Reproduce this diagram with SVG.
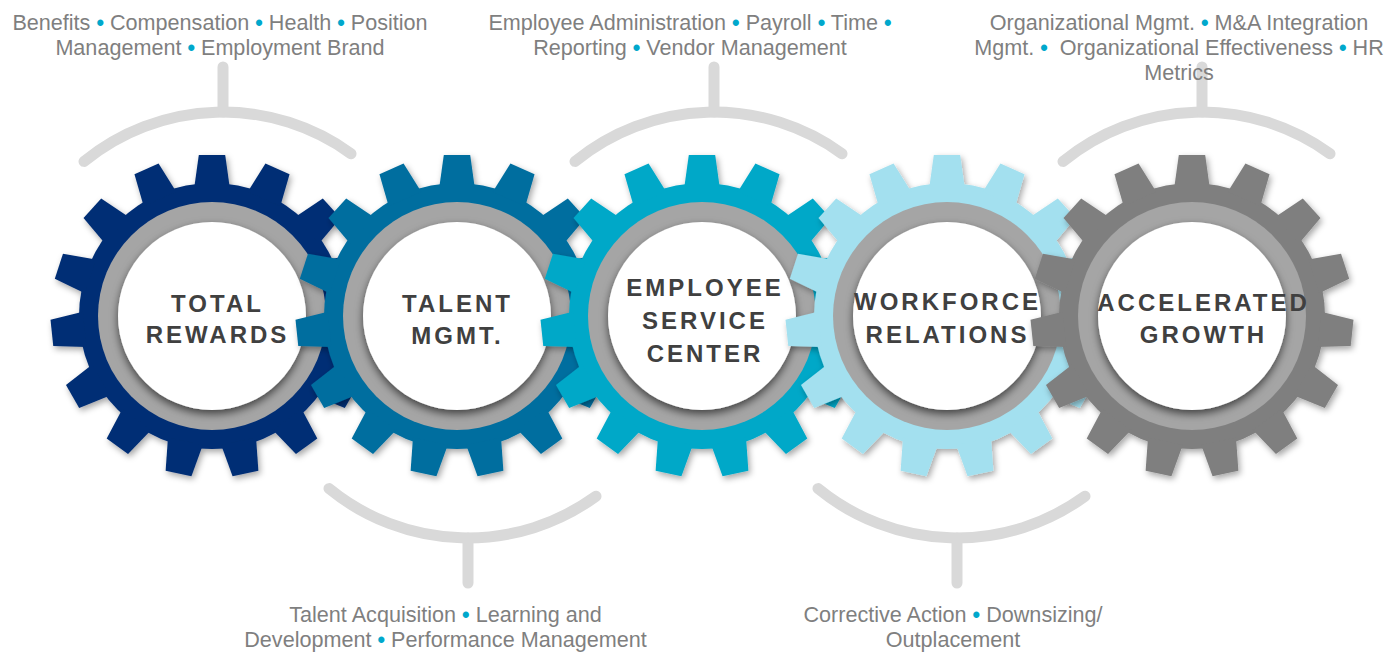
<svg xmlns="http://www.w3.org/2000/svg" xmlns:xlink="http://www.w3.org/1999/xlink" width="1387" height="652" viewBox="0 0 1387 652">
  <style>
    .bracket { fill: none; stroke: #d9d9d9; stroke-width: 11; stroke-linecap: round; }
    .ring { fill: #a5a5a5; }
    .face { fill: #ffffff; }
    .label { font-family: "Liberation Sans", Arial, sans-serif; font-weight: bold; font-size: 24px; letter-spacing: 3px; fill: #404040; text-anchor: middle; }
    .desc { font-family: "Liberation Sans", Arial, sans-serif; font-size: 21.6px; fill: #7f7f7f; text-anchor: middle; }
    .dot { fill: #00a8cc; font-weight: bold; }
  </style>
  <defs>
    <filter id="gearShadow" x="-15%" y="-15%" width="130%" height="130%">
      <feDropShadow dx="2" dy="3" stdDeviation="3" flood-color="#000" flood-opacity="0.35"/>
    </filter>
    <filter id="faceShadow" x="-20%" y="-20%" width="140%" height="140%">
      <feDropShadow dx="0" dy="4" stdDeviation="4" flood-color="#000" flood-opacity="0.6"/>
    </filter>
    <!-- one tooth pointing up; 15 copies are rotated around the hub -->
    <path id="tooth" d="M-17.8,-128 L-13.2,-161 L13.2,-161 L17.8,-128 Z"/>
    <g id="gear">
      <circle r="133"/>
      <use href="#tooth"/>
      <use href="#tooth" transform="rotate(24)"/>
      <use href="#tooth" transform="rotate(48)"/>
      <use href="#tooth" transform="rotate(72)"/>
      <use href="#tooth" transform="rotate(96)"/>
      <use href="#tooth" transform="rotate(120)"/>
      <use href="#tooth" transform="rotate(144)"/>
      <use href="#tooth" transform="rotate(168)"/>
      <use href="#tooth" transform="rotate(192)"/>
      <use href="#tooth" transform="rotate(216)"/>
      <use href="#tooth" transform="rotate(240)"/>
      <use href="#tooth" transform="rotate(264)"/>
      <use href="#tooth" transform="rotate(288)"/>
      <use href="#tooth" transform="rotate(312)"/>
      <use href="#tooth" transform="rotate(336)"/>
    </g>
  </defs>

  <rect width="1387" height="652" fill="#ffffff"/>

  <!-- brackets linking each gear to its list of services -->
  <g id="connectors">
    <path class="bracket" d="M84,161.4 A219,219 0 0 1 351,153.7"/>
    <line class="bracket" x1="223" y1="67" x2="223" y2="112"/>
    <path class="bracket" d="M575,161.4 A219,219 0 0 1 842,153.7"/>
    <line class="bracket" x1="714" y1="67" x2="714" y2="112"/>
    <path class="bracket" d="M1063,161.4 A219,219 0 0 1 1330,153.7"/>
    <line class="bracket" x1="1202" y1="67" x2="1202" y2="112"/>
    <path class="bracket" d="M329,488.6 A219,219 0 0 0 596,496.3"/>
    <line class="bracket" x1="468" y1="538" x2="468" y2="583"/>
    <path class="bracket" d="M818,488.6 A219,219 0 0 0 1085,496.3"/>
    <line class="bracket" x1="957" y1="538" x2="957" y2="583"/>
  </g>

  <!-- gears, each one overlapping the previous -->
  <g id="node-total-rewards" transform="translate(212,316)">
    <use href="#gear" fill="#002e74" filter="url(#gearShadow)"/>
    <circle class="ring" r="114"/>
    <circle class="face" r="94" filter="url(#faceShadow)"/>
  </g>
  <g id="node-talent-mgmt" transform="translate(457,316)">
    <use href="#gear" fill="#006e9f" filter="url(#gearShadow)"/>
    <circle class="ring" r="114"/>
    <circle class="face" r="94" filter="url(#faceShadow)"/>
  </g>
  <g id="node-employee-service-center" transform="translate(702,316)">
    <use href="#gear" fill="#00a8c8" filter="url(#gearShadow)"/>
    <circle class="ring" r="114"/>
    <circle class="face" r="94" filter="url(#faceShadow)"/>
  </g>
  <g id="node-workforce-relations" transform="translate(947,316)">
    <use href="#gear" fill="#a3e0ef" filter="url(#gearShadow)"/>
    <circle class="ring" r="114"/>
    <circle class="face" r="94" filter="url(#faceShadow)"/>
  </g>
  <g id="node-accelerated-growth" transform="translate(1192,316)">
    <use href="#gear" fill="#7f7f7f" filter="url(#gearShadow)"/>
    <circle class="ring" r="114"/>
    <circle class="face" r="94" filter="url(#faceShadow)"/>
  </g>

  <!-- gear titles sit above all gears -->
  <g id="labels">
    <text class="label" x="217.5" y="312">TOTAL</text>
    <text class="label" x="217.5" y="343">REWARDS</text>
    <text class="label" x="457.5" y="312">TALENT</text>
    <text class="label" x="457.5" y="344">MGMT.</text>
    <text class="label" x="705" y="296">EMPLOYEE</text>
    <text class="label" x="705" y="329">SERVICE</text>
    <text class="label" x="705" y="362">CENTER</text>
    <text class="label" x="947.5" y="310">WORKFORCE</text>
    <text class="label" x="947.5" y="343">RELATIONS</text>
    <text class="label" x="1203.5" y="311">ACCELERATED</text>
    <text class="label" x="1203.5" y="343">GROWTH</text>
  </g>

  <!-- service lists -->
  <g id="descriptions">
    <text class="desc" x="220" y="30">Benefits <tspan class="dot">•</tspan> Compensation <tspan class="dot">•</tspan> Health <tspan class="dot">•</tspan> Position</text>
    <text class="desc" x="220" y="55">Management <tspan class="dot">•</tspan> Employment Brand</text>

    <text class="desc" x="690" y="30">Employee Administration <tspan class="dot">•</tspan> Payroll <tspan class="dot">•</tspan> Time <tspan class="dot">•</tspan></text>
    <text class="desc" x="690" y="55">Reporting <tspan class="dot">•</tspan> Vendor Management</text>

    <text class="desc" x="1179" y="30">Organizational Mgmt. <tspan class="dot">•</tspan> M&amp;A Integration</text>
    <text class="desc" x="1179" y="55">Mgmt. <tspan class="dot">•</tspan>&#160; Organizational Effectiveness <tspan class="dot">•</tspan> HR</text>
    <text class="desc" x="1179" y="80">Metrics</text>

    <text class="desc" x="445.5" y="622">Talent Acquisition <tspan class="dot">•</tspan> Learning and</text>
    <text class="desc" x="445.5" y="647">Development <tspan class="dot">•</tspan> Performance Management</text>

    <text class="desc" x="953" y="622">Corrective Action <tspan class="dot">•</tspan> Downsizing/</text>
    <text class="desc" x="953" y="647">Outplacement</text>
  </g>
</svg>
